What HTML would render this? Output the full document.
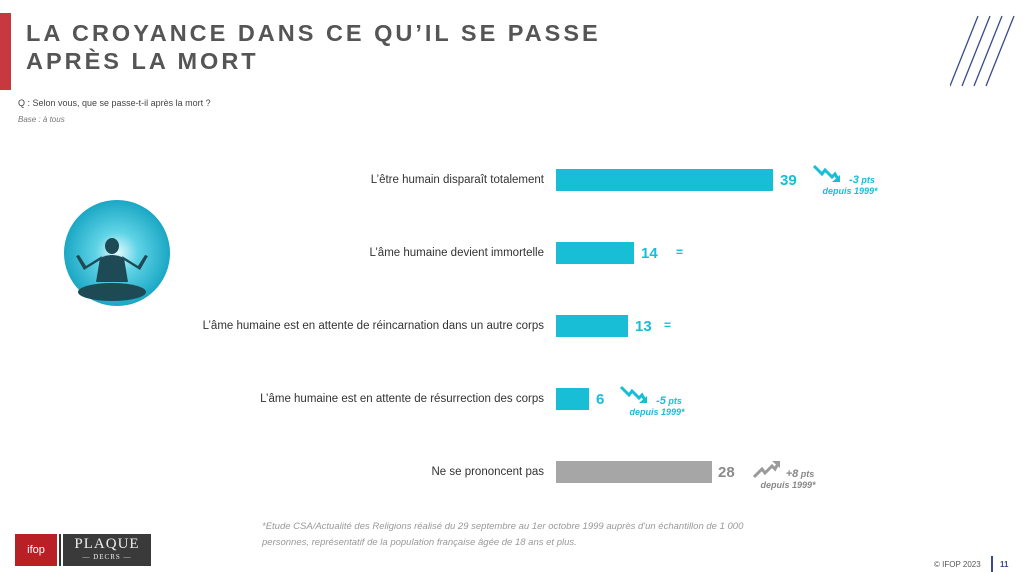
<!DOCTYPE html>
<html><head><meta charset="utf-8"><style>
body{margin:0;width:1023px;height:572px;background:#fff;font-family:"Liberation Sans",sans-serif;position:relative;overflow:hidden}
.a{position:absolute}
.t{left:26px;top:19px;font-size:23.5px;font-weight:bold;letter-spacing:3px;color:#555;line-height:28px}
.lab{right:479px;font-size:11.5px;color:#333;text-align:right;white-space:nowrap}
.bar{left:556px;height:22px;background:#17bed6}
.v{font-size:15px;font-weight:bold;color:#17bed6}
.d{font-size:9px;font-weight:bold;font-style:italic;color:#17bed6;text-align:center;line-height:11px}
</style></head><body>
<div class="a" style="left:0;top:13px;width:11px;height:77px;background:#c8393f"></div>
<div class="a t">LA CROYANCE DANS CE QU’IL SE PASSE<br>APRÈS LA MORT</div>
<div class="a" style="left:18px;top:98px;font-size:9px;color:#444">Q : Selon vous, que se passe-t-il après la mort ?</div>
<div class="a" style="left:18px;top:115px;font-size:8px;font-style:italic;color:#777">Base : à tous</div>
<svg class="a" style="left:950px;top:14px" width="70" height="74"><g stroke="#3a4a8a" stroke-width="1.3"><line x1="0" y1="72" x2="28" y2="2"/><line x1="12" y1="72" x2="40" y2="2"/><line x1="24" y1="72" x2="52" y2="2"/><line x1="36" y1="72" x2="64" y2="2"/></g></svg>
<svg class="a" style="left:60px;top:196px" width="115" height="115">
<defs><radialGradient id="g"><stop offset="0" stop-color="#e6fbff"/><stop offset="0.4" stop-color="#5fd3e6"/><stop offset="1" stop-color="#1aa7c4"/></radialGradient></defs>
<circle cx="57" cy="57" r="53" fill="url(#g)"/>
<g fill="#1e4a55"><ellipse cx="52" cy="50" rx="7" ry="8"/><path d="M40 62 Q52 56 64 62 L68 86 L36 86Z"/><path d="M40 64 L24 74 L16 60 L19 59 L26 70 L42 60Z"/><path d="M64 64 L80 74 L88 60 L85 59 L78 70 L62 60Z"/><ellipse cx="52" cy="96" rx="34" ry="9"/></g></svg>
<div class="a lab" style="top:174px">L’être humain disparaît totalement</div>
<div class="a lab" style="top:247px">L’âme humaine devient immortelle</div>
<div class="a lab" style="top:320px">L’âme humaine est en attente de réincarnation dans un autre corps</div>
<div class="a lab" style="top:393px">L’âme humaine est en attente de résurrection des corps</div>
<div class="a lab" style="top:466px">Ne se prononcent pas</div>
<div class="a bar" style="top:169px;width:217px"></div>
<div class="a bar" style="top:242px;width:78px"></div>
<div class="a bar" style="top:315px;width:72px"></div>
<div class="a bar" style="top:388px;width:33px"></div>
<div class="a bar" style="top:461px;width:156px;background:#a6a6a6"></div>
<div class="a v" style="left:780px;top:172px">39</div>
<div class="a v" style="left:641px;top:245px">14</div>
<div class="a v" style="left:635px;top:318px">13</div>
<div class="a v" style="left:596px;top:391px">6</div>
<div class="a v" style="left:718px;top:464px;color:#8a8a8a">28</div>
<div class="a v" style="left:676px;top:245px;font-size:12px">=</div>
<div class="a v" style="left:664px;top:318px;font-size:12px">=</div>
<svg class="a" style="left:812px;top:163px" width="30" height="22"><path d="M2 3 L10 11 L13 7 L20 14 L23 11 L27 18" fill="none" stroke="#17bed6" stroke-width="3"/><path d="M20 19 L28 19 L28 12Z" fill="#17bed6"/></svg>
<div class="a d" style="left:820px;top:175px;width:60px"><span style="margin-left:24px;font-size:11px">-3</span> pts<br>depuis 1999*</div>
<svg class="a" style="left:619px;top:384px" width="30" height="22"><path d="M2 3 L10 11 L13 7 L20 14 L23 11 L27 18" fill="none" stroke="#17bed6" stroke-width="3"/><path d="M20 19 L28 19 L28 12Z" fill="#17bed6"/></svg>
<div class="a d" style="left:627px;top:396px;width:60px"><span style="margin-left:24px;font-size:11px">-5</span> pts<br>depuis 1999*</div>
<svg class="a" style="left:752px;top:458px" width="30" height="22"><path d="M2 19 L10 11 L13 15 L20 8 L23 11 L27 4" fill="none" stroke="#9a9a9a" stroke-width="3"/><path d="M20 3 L28 3 L28 10Z" fill="#9a9a9a"/></svg>
<div class="a d" style="left:758px;top:469px;width:60px;color:#888"><span style="margin-left:24px;font-size:11px">+8</span> pts<br>depuis 1999*</div>
<div class="a" style="left:262px;top:519px;font-size:9.5px;font-style:italic;color:#999;line-height:16px">*Etude CSA/Actualité des Religions réalisé du 29 septembre au 1er octobre 1999 auprès d'un échantillon de 1 000<br>personnes, représentatif de la population française âgée de 18 ans et plus.</div>
<div class="a" style="left:15px;top:534px;width:42px;height:32px;background:#b82025;color:#fff;font-size:11px;text-align:center;line-height:32px">ifop</div>
<div class="a" style="left:59px;top:534px;width:2px;height:32px;background:#333"></div>
<div class="a" style="left:63px;top:534px;width:88px;height:32px;background:#3a3a3a;color:#eee;font-family:'Liberation Serif',serif;text-align:center"><div style="font-size:15px;letter-spacing:1px;margin-top:2px">PLAQUE</div><div style="font-size:7px;letter-spacing:1px">— DECRS —</div></div>
<div class="a" style="left:934px;top:560px;font-size:8px;color:#555">© IFOP 2023</div>
<div class="a" style="left:991px;top:556px;width:2px;height:16px;background:#3a4a8a"></div>
<div class="a" style="left:1000px;top:560px;font-size:8px;font-weight:bold;color:#3a4a8a">11</div>
</body></html>
